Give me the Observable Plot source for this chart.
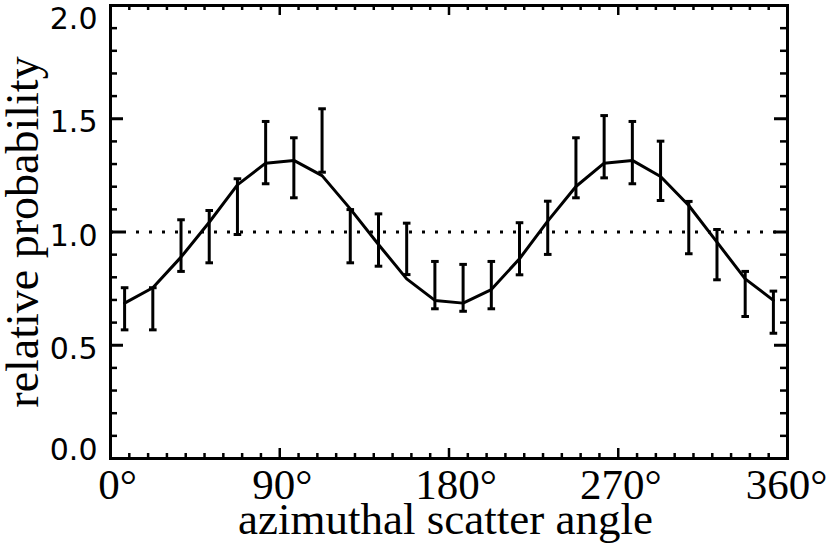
<!DOCTYPE html>
<html>
<head>
<meta charset="utf-8">
<script src="https://cdn.jsdelivr.net/npm/d3@7"></script>
<script src="https://cdn.jsdelivr.net/npm/@observablehq/plot@0.6"></script>
<style>
  html, body { margin: 0; padding: 0; background: #fff; }
  #chart svg { display: block; }
</style>
</head>
<body>
<div id="chart"></div>
<script>
// ---- data ----
const angles = [7.5, 22.5, 37.5, 52.5, 67.5, 82.5, 97.5, 112.5, 127.5, 142.5, 157.5, 172.5,
                187.5, 202.5, 217.5, 232.5, 247.5, 262.5, 277.5, 292.5, 307.5, 322.5, 337.5, 352.5];
const fitValues = [0.686, 0.754, 0.889, 1.043, 1.208, 1.304, 1.316, 1.249, 1.102, 0.945, 0.793, 0.698,
                   0.686, 0.746, 0.882, 1.048, 1.201, 1.304, 1.316, 1.245, 1.117, 0.955, 0.793, 0.698];
const errLow  = [0.568, 0.568, 0.826, 0.864, 0.989, 1.213, 1.151, 1.264, 0.864, 0.849, 0.812, 0.661,
                 0.650, 0.661, 0.811, 0.901, 1.151, 1.239, 1.213, 1.139, 0.904, 0.789, 0.627, 0.553];
const errHigh = [0.754, 0.754, 1.054, 1.095, 1.235, 1.488, 1.416, 1.544, 1.099, 1.080, 1.039, 0.870,
                 0.857, 0.870, 1.041, 1.136, 1.416, 1.514, 1.488, 1.401, 1.135, 1.011, 0.826, 0.739];
const referenceLevel = [1.0];

const xMajorTicks = [0, 90, 180, 270, 360];
const xTickLabels = ["0°", "90°", "180°", "270°", "360°"];
const xMinorTicks = [10, 20, 30, 40, 50, 60, 70, 80, 100, 110, 120, 130, 140, 150, 160, 170,
                     190, 200, 210, 220, 230, 240, 250, 260, 280, 290, 300, 310, 320, 330, 340, 350];
const yMajorTicks = [0, 0.5, 1.0, 1.5, 2.0];
const yTickLabels = ["0.0", "0.5", "1.0", "1.5", "2.0"];
const yMinorTicks = [0.1, 0.2, 0.3, 0.4, 0.6, 0.7, 0.8, 0.9, 1.1, 1.2, 1.3, 1.4, 1.6, 1.7, 1.8, 1.9];
const xTitle = "azimuthal scatter angle";
const yTitle = "relative probability";

// ---- tables built from the arrays ----
const points = angles.map((a, i) => ({angle: a, fit: fitValues[i], lo: errLow[i], hi: errHigh[i]}));
const xLabelRows = xMajorTicks.map((v, i) => ({v, label: xTickLabels[i]}));
const yLabelRows = yMajorTicks.map((v, i) => ({v, label: yTickLabels[i]}));

// ---- layout ----
const W = 830, H = 546;
const mL = 110, mR = 43, mT = 5, mB = 88;
const pw = W - mL - mR, ph = H - mT - mB;

const capSymbol = {
  draw(context, size) {
    const r = Math.sqrt(size / Math.PI);
    context.moveTo(-r, 0);
    context.lineTo(r, 0);
  }
};

const serif = "'Liberation Serif', 'Times New Roman', serif";
const sans = "'DejaVu Sans', sans-serif";

const xLabelStyle = {x: "v", text: "label", frameAnchor: "bottom", lineAnchor: "bottom",
  dy: 40, fontSize: 43, fontFamily: serif, fill: "#000"};
const yLabelStyle = {y: "v", text: "label", frameAnchor: "left", textAnchor: "end",
  lineAnchor: "middle", dx: -13, fontSize: 30, fontFamily: sans, fill: "#000"};

const chart = Plot.plot({
  width: W,
  height: H,
  marginLeft: mL, marginRight: mR, marginTop: mT, marginBottom: mB,
  x: {domain: [0, 360], axis: null},
  y: {domain: [0, 2], axis: null},
  style: {background: "#fff", color: "#000"},
  marks: [
    // dotted reference line
    Plot.ruleY(referenceLevel, {y: d => d, stroke: "#000", strokeWidth: 3, strokeDasharray: "3,10"}),
    // fitted curve
    Plot.line(points, {x: "angle", y: "fit", stroke: "#000", strokeWidth: 3}),
    // error bars
    Plot.ruleX(points, {x: "angle", y1: "lo", y2: "hi", stroke: "#000", strokeWidth: 3}),
    Plot.dot(points, {x: "angle", y: "lo", symbol: capSymbol, r: 3.8, stroke: "#000", fill: "none", strokeWidth: 3}),
    Plot.dot(points, {x: "angle", y: "hi", symbol: capSymbol, r: 3.8, stroke: "#000", fill: "none", strokeWidth: 3}),
    // frame
    Plot.frame({stroke: "#000", strokeWidth: 3}),
    // y ticks (inward, left and right)
    Plot.tickY(yMajorTicks, {y: d => d, insetRight: pw - 13, stroke: "#000", strokeWidth: 3}),
    Plot.tickY(yMajorTicks, {y: d => d, insetLeft: pw - 13, stroke: "#000", strokeWidth: 3}),
    Plot.tickY(yMinorTicks, {y: d => d, insetRight: pw - 7, stroke: "#000", strokeWidth: 2.5}),
    Plot.tickY(yMinorTicks, {y: d => d, insetLeft: pw - 7, stroke: "#000", strokeWidth: 2.5}),
    // x ticks (inward, bottom and top)
    Plot.tickX(xMajorTicks, {x: d => d, insetTop: ph - 10, stroke: "#000", strokeWidth: 2.5}),
    Plot.tickX(xMajorTicks, {x: d => d, insetBottom: ph - 10, stroke: "#000", strokeWidth: 2.5}),
    Plot.tickX(xMinorTicks, {x: d => d, insetTop: ph - 5, stroke: "#000", strokeWidth: 2.5}),
    Plot.tickX(xMinorTicks, {x: d => d, insetBottom: ph - 5, stroke: "#000", strokeWidth: 2.5}),
    // x tick labels (small horizontal nudges as in the reference)
    Plot.text(xLabelRows.filter(d => d.v === 0 || d.v === 180), {...xLabelStyle, dx: 7}),
    Plot.text(xLabelRows.filter(d => d.v === 90 || d.v === 270), {...xLabelStyle, dx: 2.5}),
    Plot.text(xLabelRows.filter(d => d.v === 360), {...xLabelStyle, dx: -1}),
    // y tick labels (ends nudged inward like the reference)
    Plot.text(yLabelRows.filter(d => d.v > 0 && d.v < 2), {...yLabelStyle, dy: 4}),
    Plot.text(yLabelRows.filter(d => d.v === 2), {...yLabelStyle, dy: 14}),
    Plot.text(yLabelRows.filter(d => d.v === 0), {...yLabelStyle, dy: -8}),
    // axis titles
    Plot.text([xTitle], {text: d => d, frameAnchor: "bottom", lineAnchor: "bottom", dy: 75, dx: -3.5,
      fontSize: 45, fontFamily: serif, fill: "#000"}),
    Plot.text([yTitle], {text: d => d, frameAnchor: "left", textAnchor: "middle", lineAnchor: "bottom",
      rotate: -90, dx: -73, fontSize: 46, fontFamily: serif, fill: "#000"})
  ]
});

document.getElementById("chart").appendChild(chart);
</script>
</body>
</html>
